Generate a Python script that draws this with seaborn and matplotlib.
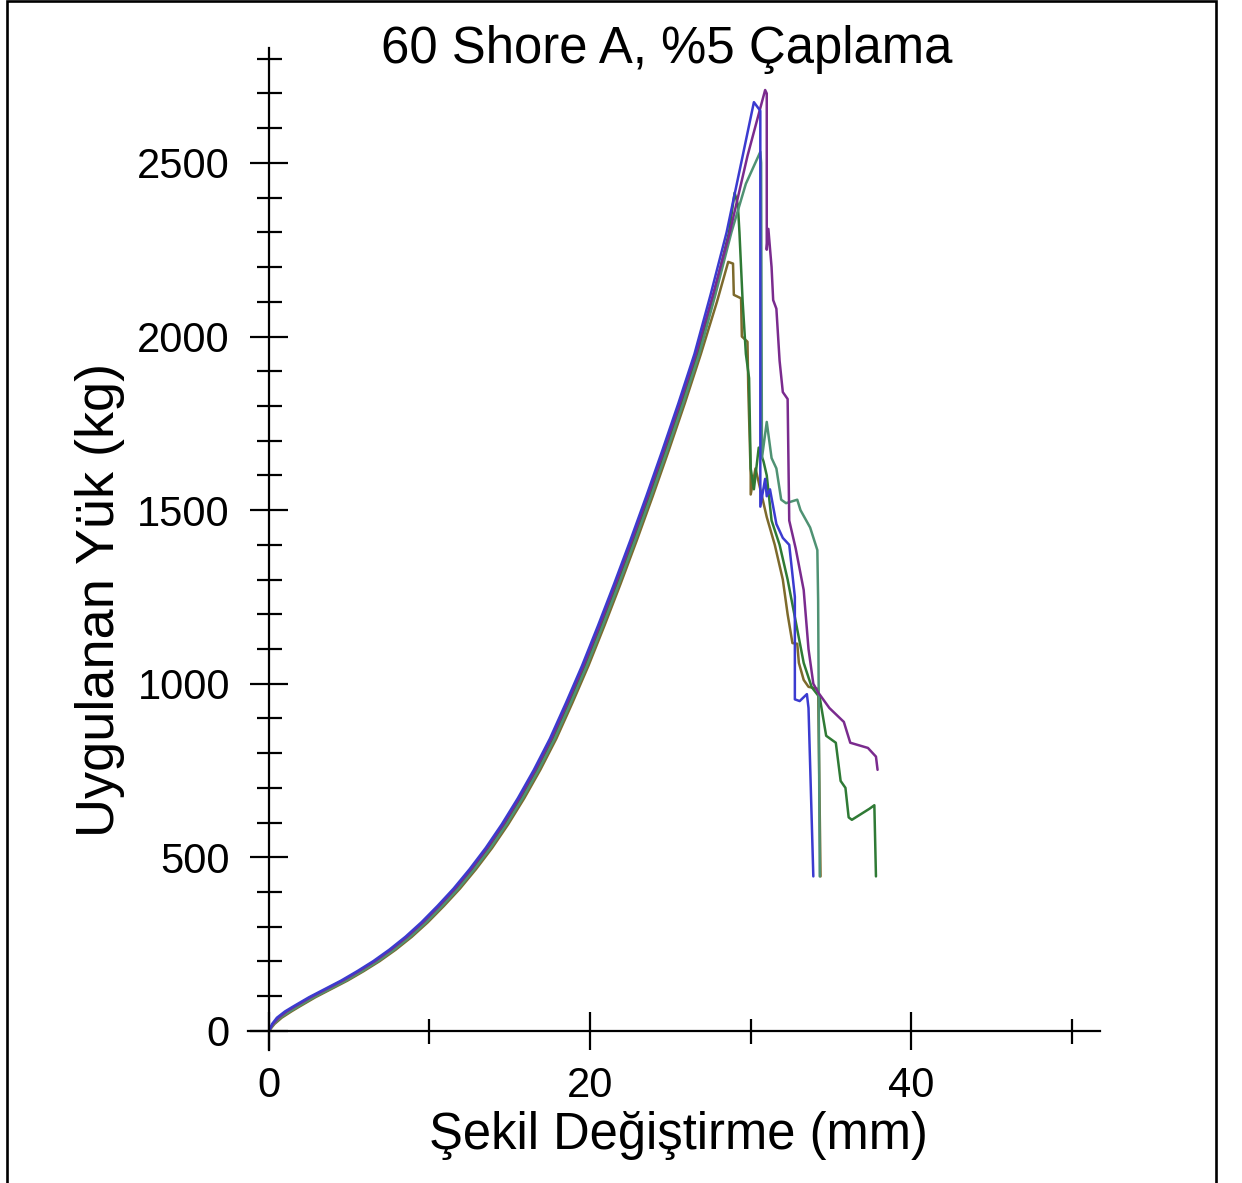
import numpy as np
import pandas as pd
import matplotlib
matplotlib.use("Agg")
import matplotlib.pyplot as plt
import matplotlib.patches as patches
from matplotlib.ticker import MultipleLocator, FixedLocator
import seaborn as sns

# --- dati (mm, kg) ---
mavi_x = [0, 0.2, 0.5, 1.0, 1.5, 2.5, 3.5, 4.5, 5.5, 6.5, 7.5, 8.5, 9.5, 10.5, 11.5, 12.5, 13.5, 14.5, 15.5,
          16.5, 17.5, 18.5, 19.5, 20.5, 21.5, 22.5, 23.5, 24.5, 25.5, 26.5, 27.5, 28.5, 29.5, 30.2,
          30.6, 30.6, 30.9, 31.0, 31.2, 31.6, 32.0, 32.4, 32.75, 32.75, 33.05, 33.5, 33.6, 33.9]
mavi_y = [0, 20, 38, 56, 70, 97, 121, 145, 172, 201, 234, 271, 313, 360, 410, 466, 527, 595, 670,
          752, 842, 945, 1052, 1168, 1288, 1412, 1540, 1672, 1808, 1950, 2120, 2300, 2520, 2675,
          2650, 1510, 1590, 1540, 1560, 1460, 1420, 1400, 1250, 955, 950, 970, 930, 445]

mor_x = [0, 0.25, 0.6, 1.1, 1.6, 2.6, 3.6, 4.6, 5.6, 6.6, 7.6, 8.6, 9.6, 10.6, 11.6, 12.6, 13.6, 14.6, 15.6,
         16.6, 17.6, 18.6, 19.6, 20.6, 21.6, 22.6, 23.6, 24.6, 25.6, 26.6, 27.65, 28.7, 29.8, 30.9,
         31.0, 31.0, 31.1, 31.3, 31.4, 31.6, 31.8, 32.0, 32.3, 32.4, 32.8, 33.3, 33.6, 33.9, 34.2, 34.9, 35.8,
         36.2, 37.3, 37.8, 37.9]
mor_y = [0, 20, 38, 56, 70, 97, 121, 145, 172, 201, 234, 271, 313, 360, 410, 466, 527, 595, 670,
         752, 842, 945, 1052, 1168, 1288, 1412, 1540, 1672, 1808, 1950, 2120, 2300, 2520, 2710,
         2700, 2250, 2310, 2200, 2105, 2080, 1930, 1840, 1820, 1470, 1390, 1270, 1100, 1000, 975, 930, 890,
         830, 815, 790, 752]

camgobegi_x = [0, 0.3, 0.7, 1.3, 1.8, 2.8, 3.8, 4.8, 5.8, 6.8, 7.8, 8.8, 9.8, 10.8, 11.8, 12.8, 13.8, 14.8,
               15.8, 16.8, 17.8, 18.8, 19.8, 20.8, 21.8, 22.8, 23.8, 24.8, 25.8, 26.8, 27.8, 28.8, 29.7, 30.6,
               30.65, 30.7, 31.0, 31.3, 31.6, 31.9, 32.2, 32.9, 33.1, 33.7, 34.15, 34.2, 34.3]
camgobegi_y = [0, 20, 38, 56, 70, 97, 121, 145, 172, 201, 234, 271, 313, 360, 410, 466, 527, 595,
               670, 752, 842, 945, 1052, 1168, 1288, 1412, 1540, 1672, 1808, 1950, 2120, 2300, 2440, 2532,
               2500, 1650, 1754, 1650, 1620, 1530, 1520, 1530, 1500, 1450, 1385, 1240, 445]

koyuyesil_x = [0, 0.25, 0.65, 1.2, 1.7, 2.7, 3.7, 4.7, 5.7, 6.7, 7.7, 8.7, 9.7, 10.7, 11.7, 12.7, 13.7, 14.7,
               15.7, 16.7, 17.7, 18.7, 19.7, 20.7, 21.7, 22.7, 23.7, 24.7, 25.7, 26.7, 27.7, 28.65, 29.0,
               29.2, 29.3, 29.5, 29.7, 29.9, 30.0, 30.2, 30.5, 30.8, 31.0, 31.3, 31.8, 32.3, 32.8, 33.3, 33.8,
               34.3, 34.7, 35.3, 35.6, 35.9, 36.1, 36.3, 37.4, 37.7, 37.8]
koyuyesil_y = [0, 20, 38, 56, 70, 97, 121, 145, 172, 201, 234, 271, 313, 360, 410, 466, 527, 595,
               670, 752, 842, 945, 1052, 1168, 1288, 1412, 1540, 1672, 1808, 1950, 2120, 2300, 2414,
               2380, 2300, 2100, 1950, 1880, 1620, 1560, 1680, 1640, 1600, 1470, 1400, 1300, 1180, 1060, 990,
               960, 850, 830, 720, 700, 615, 608, 640, 650, 445]

zeytin_x = [0, 0.35, 0.8, 1.4, 1.9, 2.9, 3.9, 4.9, 5.9, 6.9, 7.9, 8.9, 9.9, 10.9, 11.9, 12.9, 13.9, 14.9,
            15.9, 16.9, 17.9, 18.9, 19.9, 20.9, 21.9, 22.9, 23.9, 24.9, 25.9, 26.9, 27.9, 28.6,
            28.9, 28.95, 29.4, 29.45, 29.8, 29.85, 30.0, 30.0, 30.3, 30.6, 31.0, 31.5, 32.0, 32.3, 32.6, 32.9,
            33.0, 33.3, 33.6, 34.2, 34.35]
zeytin_y = [0, 20, 38, 56, 70, 97, 121, 145, 172, 201, 234, 271, 313, 360, 410, 466, 527, 595,
            670, 752, 842, 945, 1052, 1168, 1288, 1412, 1540, 1672, 1808, 1950, 2100, 2215,
            2210, 2120, 2110, 2000, 1985, 1850, 1600, 1545, 1620, 1560, 1480, 1400, 1300, 1200, 1117, 1115,
            1060, 1011, 991, 985, 445]

renkler = {"zeytin": "#7d6a2c", "koyuyesil": "#2f7a35", "camgobegi": "#4f9273",
           "mor": "#7a2b8e", "mavi": "#3b3bd0"}

parcalar = []
for ad, xs, ys in [("zeytin", zeytin_x, zeytin_y), ("koyuyesil", koyuyesil_x, koyuyesil_y),
                   ("camgobegi", camgobegi_x, camgobegi_y), ("mor", mor_x, mor_y), ("mavi", mavi_x, mavi_y)]:
    parcalar.append(pd.DataFrame({"x": xs, "y": ys, "egri": ad}))
df = pd.concat(parcalar, ignore_index=True)

sns.set_theme(style="white")
plt.rcParams["font.family"] = ["Liberation Sans", "DejaVu Sans"]
plt.rcParams["text.color"] = "black"

fig = plt.figure(figsize=(12.42, 11.83), dpi=100)
ax = fig.add_axes([248 / 1242, 133 / 1183, 852 / 1242, 1002 / 1183])

sns.lineplot(data=df, x="x", y="y", hue="egri", units="egri", estimator=None, sort=False,
             palette=renkler, legend=False, linewidth=1.8, ax=ax)

ax.set_xlim(-1.3, 51.75)
ax.set_ylim(-55, 2831)

for s in ["top", "right"]:
    ax.spines[s].set_visible(False)
for s in ["left", "bottom"]:
    ax.spines[s].set_position(("data", 0))
    ax.spines[s].set_color("black")
    ax.spines[s].set_linewidth(1.6)

ax.xaxis.set_major_locator(FixedLocator([0, 20, 40]))
ax.xaxis.set_minor_locator(FixedLocator([10, 30, 50]))
ax.yaxis.set_major_locator(MultipleLocator(500))
ax.yaxis.set_minor_locator(MultipleLocator(100))
ax.set_yticks(np.arange(0, 2501, 500))
ax.tick_params(which="major", direction="inout", length=28, width=1.6, color="black",
               labelsize=30, labelcolor="black", pad=14)
ax.tick_params(which="minor", direction="inout", length=18, width=1.6, color="black")
ax.tick_params(axis="y", which="both", left=True)
ax.tick_params(axis="x", which="both", bottom=True)
ax.tick_params(axis="x", which="major", pad=11)

ax.set_xlabel("Şekil Değiştirme (mm)", fontsize=36.5, color="black", va="center")
ax.set_ylabel("Uygulanan Yük (kg)", fontsize=39, color="black", va="center")
ax.xaxis.set_label_coords(0.505, -0.085)
ax.yaxis.set_label_coords(-0.174, 0.449)

fig.text(667 / 1242, 1 - 49 / 1183, "60 Shore A, %5 Çaplama", fontsize=36.6, color="black",
         ha="center", va="center")

# cerceve
cerceve = patches.Rectangle((7 / 1242, -0.05), (1215.5 - 7) / 1242, 1.05 - 1 / 1183,
                            transform=fig.transFigure, fill=False, edgecolor="black",
                            linewidth=1.9, clip_on=False)
fig.patches.append(cerceve)

fig.savefig("out.png", dpi=100, facecolor="white")
